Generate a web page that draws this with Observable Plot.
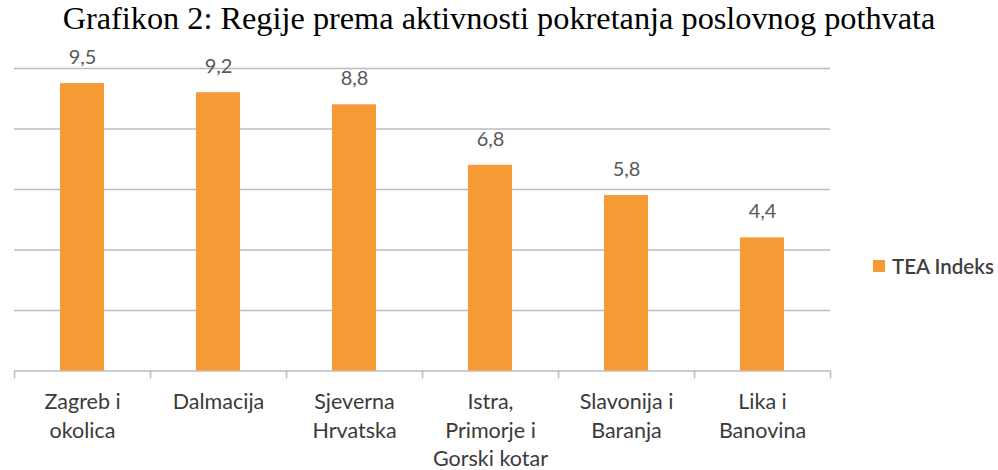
<!DOCTYPE html>
<html><head><meta charset="utf-8">
<script src="https://cdn.jsdelivr.net/npm/d3@7"></script>
<script src="https://cdn.jsdelivr.net/npm/@observablehq/plot@0.6"></script>
<style>
body{margin:0;background:#fff;width:998px;height:470px;position:relative;overflow:hidden}
#title{font-family:"Liberation Serif","Times New Roman",serif;font-size:32.3px;color:#000;text-align:center;height:38px;line-height:37px;white-space:nowrap}
#legend{position:absolute;left:873px;top:254px;font-family:Lato,"Open Sans",sans-serif;font-size:20.5px;font-weight:600;color:#404040;display:flex;align-items:center}
#legend .sw{display:inline-block;width:12px;height:12px;margin-right:7px}
</style></head>
<body>
<div id="title">Grafikon 2: Regije prema aktivnosti pokretanja poslovnog pothvata</div>
<div id="chart"></div>
<div id="legend"></div>
<script>
const regions = ["Zagreb i\nokolica", "Dalmacija", "Sjeverna\nHrvatska", "Istra,\nPrimorje i\nGorski kotar", "Slavonija i\nBaranja", "Lika i\nBanovina"];
const teaIndex = [9.5, 9.2, 8.8, 6.8, 5.8, 4.4];
const seriesName = "TEA Indeks";
const yTicks = [0, 2, 4, 6, 8, 10];
const barColor = "#F69A36";

const data = regions.map((r, i) => ({region: r, value: teaIndex[i]}));
const fmt = v => d3.format(".1f")(v).replace(".", ",");

const W = 998, H = 432, mL = 14, mR = 168, mT = 30, mB = 99.5;
const band = (W - mL - mR) / regions.length;
const plotH = H - mT - mB;

const chart = Plot.plot({
  width: W, height: H,
  marginLeft: mL, marginRight: mR, marginTop: mT, marginBottom: mB,
  style: {fontFamily: "Lato, 'Open Sans', sans-serif", background: "#fff"},
  x: {domain: regions, padding: 0, label: null},
  y: {domain: [0, 10], label: null, axis: null},
  marks: [
    Plot.ruleY(yTicks, {stroke: "#bdbdbd", strokeWidth: 1.6}),
    Plot.barY(data, {x: "region", y: "value", fill: barColor, insetLeft: 46, insetRight: 46}),
    Plot.text(data, {x: "region", y: "value", text: d => fmt(d.value), dy: -26, fill: "#595959", fontSize: 20}),
    Plot.ruleX(regions, {x: d => d, dx: -band / 2, insetTop: plotH, insetBottom: -8, stroke: "#bdbdbd", strokeWidth: 1.6}),
    Plot.ruleX([regions[regions.length - 1]], {x: d => d, dx: band / 2, insetTop: plotH, insetBottom: -8, stroke: "#bdbdbd", strokeWidth: 1.6}),
    Plot.axisX({tickSize: 0, tickPadding: 18, fontSize: 21.5, lineHeight: 1.33, fill: "#3a3a3a", label: null})
  ]
});
document.getElementById("chart").appendChild(chart);

const lg = document.getElementById("legend");
lg.innerHTML = `<span class="sw" style="background:${barColor}"></span><span>${seriesName}</span>`;
</script>
</body></html>
